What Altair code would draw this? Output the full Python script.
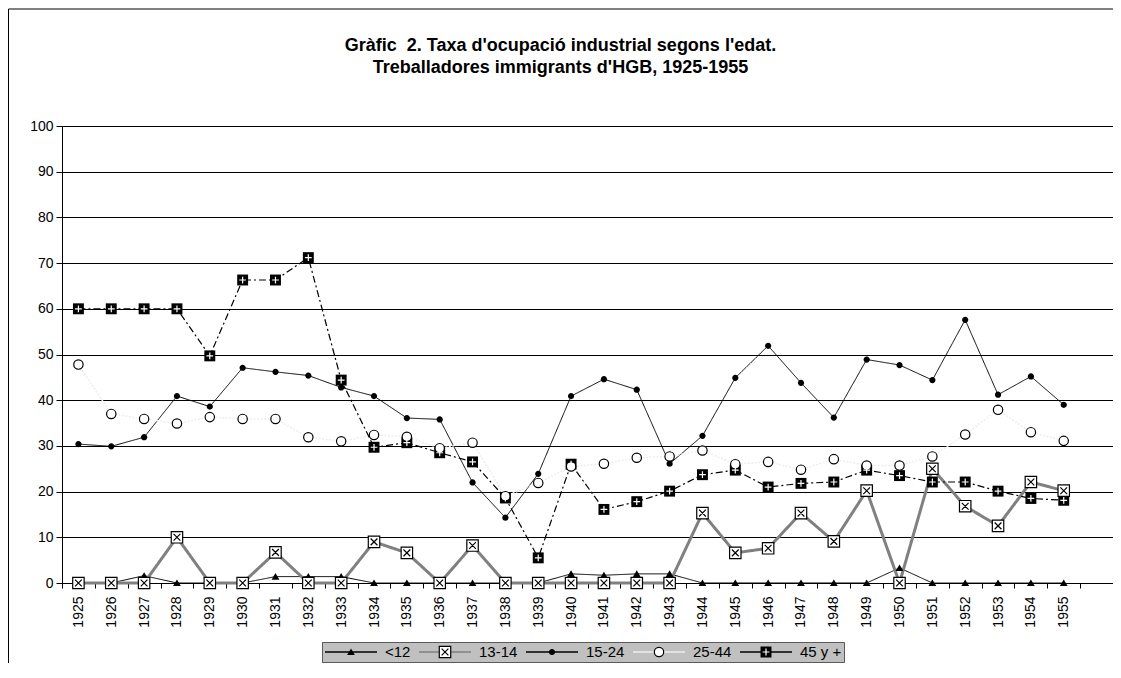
import altair as alt
import pandas as pd

years = [str(y) for y in range(1925, 1956)]
x_domain = years + ["1956"]
series_names = ["<12", "13-14", "15-24", "25-44", "45 y +"]

v_lt12 = [0, 0, 1.6, 0, 0, 0, 1.4, 1.4, 1.4, 0,
          0, 0, 0, 0, 0, 2.0, 1.7, 2.0, 2.0, 0,
          0, 0, 0, 0, 0, 3.3, 0, 0, 0, 0, 0]
v_13_14 = [0, 0, 0, 10.0, 0, 0, 6.7, 0, 0, 9.0,
           6.6, 0, 8.2, 0, 0, 0, 0, 0, 0, 15.3,
           6.6, 7.6, 15.3, 9.1, 20.2, 0, 25.0, 16.8, 12.5, 22.1, 20.2]
v_15_24 = [30.4, 29.9, 31.9, 40.9, 38.6, 47.1, 46.2, 45.4, 42.8, 40.9,
           36.1, 35.8, 22.0, 14.3, 23.9, 40.9, 44.6, 42.3, 26.1, 32.2,
           44.9, 51.9, 43.8, 36.2, 48.9, 47.7, 44.4, 57.6, 41.2, 45.2, 39.0]
v_25_44 = [47.8, 37.0, 35.9, 34.9, 36.3, 35.9, 35.9, 31.9, 31.0, 32.4,
           32.0, 29.5, 30.7, 19.0, 21.9, 25.5, 26.1, 27.4, 27.7, 29.0,
           26.0, 26.5, 24.8, 27.1, 25.7, 25.7, 27.7, 32.5, 37.9, 33.0, 31.1]
v_45 = [60.0, 60.0, 60.0, 60.0, 49.7, 66.3, 66.3, 71.2, 44.4, 29.7,
        30.7, 28.5, 26.5, 18.6, 5.5, 26.0, 16.1, 17.8, 20.1, 23.7,
        24.7, 21.0, 21.8, 22.1, 24.7, 23.5, 22.1, 22.1, 20.1, 18.5, 18.1]

title_lines = ["Gràfic\u00a0 2. Taxa d'ocupació industrial segons l'edat.",
               "Treballadores immigrants d'HGB, 1925-1955"]
y_ticks = list(range(0, 101, 10))

rows = []
for name, vals in zip(series_names, [v_lt12, v_13_14, v_15_24, v_25_44, v_45]):
    for yr, v in zip(years, vals):
        rows.append({"year": yr, "value": v, "series": name})
df = pd.DataFrame(rows)

FONT = "Liberation Sans"
SZ = 2704  # symbol box 52px -> custom path unit = 26px

# distinct (unused) extra domain entries keep the overlaid legends from merging
dom_lines = series_names
dom_black = series_names + ["~black"]
dom_white = series_names + ["~white"]
dom_glyphs = series_names + ["~glyphs"]

line_colors = ["#000000", "#808080", "#000000", "#eeeeee", "#000000"]
line_dash = [[1, 0], [1, 0], [1, 0], [2, 1.5], [7, 3, 2, 3]]
line_widths = [1, 3, 1, 1.5, 1.2]

W = "M-1,0M1,0"
SQB = "M-0.21,-0.21L0.21,-0.21L0.21,0.21L-0.21,0.21Z"
SQW = "M-0.22,-0.22L0.22,-0.22L0.22,0.22L-0.22,0.22Z"
TRI = "M0,-0.135L0.15,0.12L-0.15,0.12Z"
DOT = "M-0.12,0A0.12,0.12 0 1,0 0.12,0A0.12,0.12 0 1,0 -0.12,0Z"
CIRC = "M-0.18,0A0.18,0.18 0 1,0 0.18,0A0.18,0.18 0 1,0 -0.18,0Z"
black_shapes = [W + TRI, W, W + DOT, W, W + SQB, W]
white_shapes = [W, W + SQW, W, W + CIRC, W, W]
glyph_shapes = [
    W,
    W + SQW + "M-0.13,-0.13L0.13,0.13M0.13,-0.13L-0.13,0.13",
    W,
    W + "M-0.18,0A0.18,0.18 0 1,0 0.18,0A0.18,0.18 0 1,0 -0.18,0",
    W + "M-0.13,0L0.13,0M0,-0.13L0,0.13",
    W,
]
glyph_colors = ["#000000", "#000000", "#000000", "#000000", "#ffffff", "#000000"]


def leg(**kw):
    base = dict(orient="none", legendX=260, legendY=516, direction="horizontal",
                title=None, symbolSize=SZ, clipHeight=16, labelFont=FONT, labelFontSize=15,
                labelColor="black", labelOffset=7, columnPadding=7, padding=2,
                symbolOpacity=1, values=series_names)
    base.update(kw)
    return alt.Legend(**base)


x_enc = alt.X("year:O",
              scale=alt.Scale(type="band", domain=x_domain, paddingInner=0, paddingOuter=0),
              bandPosition=0.5,
              axis=alt.Axis(title=None, labelAngle=270,
                            labelExpr="datum.value == '1956' ? '' : datum.label",
                            tickBand="extent", tickSize=5, labelPadding=8,
                            labelFont=FONT, labelFontSize=14, labelColor="black",
                            domainColor="black", tickColor="black", grid=False))
y_enc = alt.Y("value:Q", scale=alt.Scale(domain=[0, 100], nice=False),
              axis=alt.Axis(title=None, values=y_ticks, grid=True, gridColor="black",
                            gridWidth=1, tickSize=6, labelPadding=3, labelFont=FONT,
                            labelFontSize=14, labelColor="black", domainColor="black",
                            tickColor="black"))

leg1 = leg(symbolType="stroke", fillColor="#c0c0c0", strokeColor="#5a5a5a")
lines = alt.Chart(df).mark_line().encode(
    x=x_enc, y=y_enc,
    stroke=alt.Stroke("series:N", scale=alt.Scale(domain=dom_lines, range=line_colors), legend=leg1),
    strokeDash=alt.StrokeDash("series:N", scale=alt.Scale(domain=dom_lines, range=line_dash), legend=leg1),
    strokeWidth=alt.StrokeWidth("series:N", scale=alt.Scale(type="ordinal", domain=dom_lines, range=line_widths), legend=leg1),
)

leg_b = leg(symbolFillColor="#000000", symbolStrokeColor="transparent", symbolStrokeWidth=1.2, labelOpacity=0)
black_marks = alt.Chart(df).mark_point(filled=True, fill="#000000", strokeWidth=0, size=SZ, opacity=1).encode(
    x=x_enc, y=y_enc,
    shape=alt.Shape("series:N", scale=alt.Scale(domain=dom_black, range=black_shapes), legend=leg_b),
)

leg_w = leg(symbolFillColor="#ffffff", symbolStrokeColor="transparent", symbolStrokeWidth=1.2, labelOpacity=0)
white_marks = alt.Chart(df).mark_point(filled=True, fill="#ffffff", strokeWidth=0, size=SZ, opacity=1).encode(
    x=x_enc, y=y_enc,
    shape=alt.Shape("series:N", scale=alt.Scale(domain=dom_white, range=white_shapes), legend=leg_w),
)

leg_g = leg(symbolFillColor="transparent", symbolStrokeColor="#000000", symbolStrokeWidth=1.2, labelOpacity=0)
glyphs = alt.Chart(df).mark_point(filled=False, strokeWidth=1.2, size=SZ, opacity=1).encode(
    x=x_enc, y=y_enc,
    shape=alt.Shape("series:N", scale=alt.Scale(domain=dom_glyphs, range=glyph_shapes), legend=leg_g),
    stroke=alt.Stroke("series:N", scale=alt.Scale(domain=dom_glyphs, range=glyph_colors), legend=leg_g),
)

frame = alt.Chart(alt.Data(values=[{"f": 1}])).mark_rect(filled=False, stroke="black", strokeWidth=1).encode(
    x=alt.value(-53.5), x2=alt.value(1070), y=alt.value(-117), y2=alt.value(700)
)

chart = alt.layer(frame, lines, black_marks, white_marks, glyphs).resolve_scale(
    stroke="independent", shape="independent"
).properties(
    width=1051, height=457,
    padding={"left": 54, "top": 118, "right": 0, "bottom": 80},
    autosize=alt.AutoSizeParams(type="none"),
    title=alt.Title(title_lines, font=FONT, fontSize=18, fontWeight="bold", color="black",
                    anchor="middle", frame="group", dx=-27, offset=0, dy=68, lineHeight=22),
).configure_view(fill="#c0c0c0", stroke="#808080", strokeWidth=1).configure(background="white")

chart.save("out.html", embed_options={"renderer": "svg", "actions": False})
